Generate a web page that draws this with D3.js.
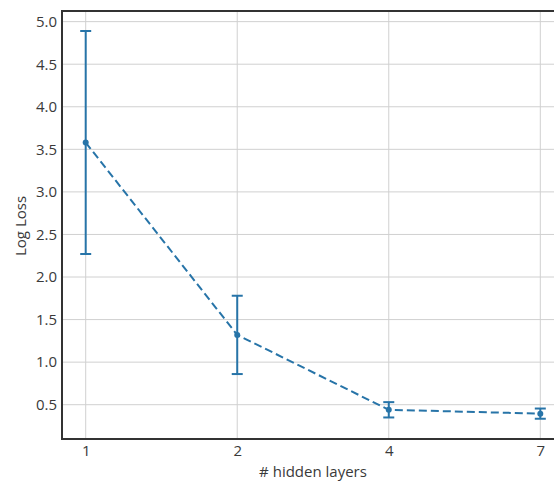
<!DOCTYPE html>
<html>
<head>
<meta charset="utf-8">
<script src="https://cdn.jsdelivr.net/npm/d3@7"></script>
<style>
  html, body { margin: 0; padding: 0; background: #fff; overflow: hidden; }
  svg { display: block; }
  text { font-family: "Open Sans", "DejaVu Sans", sans-serif; fill: #3a3a3a; }
</style>
</head>
<body>
<div id="chart"></div>
<script>
// data
const layers = ["1", "2", "4", "7"];
const logLoss = [3.58, 1.32, 0.44, 0.395];
const errs = [1.31, 0.46, 0.09, 0.06];
const yTicks = [0.5, 1.0, 1.5, 2.0, 2.5, 3.0, 3.5, 4.0, 4.5, 5.0];

const W = 554, H = 481;
const margin = { top: 11, right: -10, bottom: 42, left: 62 };
const width = W - margin.left - margin.right,
      height = H - margin.top - margin.bottom;

const svg = d3.select("#chart").append("svg")
    .attr("width", W)
    .attr("height", H);

const g = svg.append("g")
    .attr("transform", "translate(" + margin.left + "," + margin.top + ")");

// categories sit evenly spaced
const x = d3.scalePoint()
    .domain(layers)
    .range([23.7, width - 23.7]);

const y = d3.scaleLinear()
    .domain([0.097, 5.125])
    .range([height, 0]);

const right = W - margin.left; // picture edge, in plot coordinates

// grid
g.selectAll(".hgrid")
  .data(yTicks)
  .enter().append("line")
    .attr("x1", 0).attr("x2", right)
    .attr("y1", d => y(d)).attr("y2", d => y(d))
    .style("stroke", "#d0d0d0")
    .style("stroke-width", 1);

g.selectAll(".vgrid")
  .data(layers)
  .enter().append("line")
    .attr("x1", d => x(d)).attr("x2", d => x(d))
    .attr("y1", 0).attr("y2", height)
    .style("stroke", "#d0d0d0")
    .style("stroke-width", 1);

// axes (labels only)
const yAxis = g.append("g")
    .call(d3.axisLeft(y).tickValues(yTicks).tickFormat(d3.format(".1f")).tickSize(0).tickPadding(5));
const xAxis = g.append("g")
    .attr("transform", "translate(0," + height + ")")
    .call(d3.axisBottom(x).tickSize(0).tickPadding(6));
[yAxis, xAxis].forEach(a => {
  a.select(".domain").remove();
  a.selectAll("text").style("font-size", "15px").style("fill", "#3a3a3a");
});

// left, top and bottom spines as thin filled bars (no right spine in the picture)
const spines = [[-1, -1, 2, height + 2], [-1, -1, right + 1, 2], [-1, height - 1, right + 1, 2]];
g.selectAll(".spine")
  .data(spines)
  .enter().append("rect")
    .attr("x", d => d[0]).attr("y", d => d[1])
    .attr("width", d => d[2]).attr("height", d => d[3])
    .style("fill", "#333");

const col = "#2774a8";

// dashed mean line
const line = d3.line()
    .x((d, i) => x(layers[i]))
    .y(d => y(d));

g.append("path")
    .datum(logLoss)
    .attr("d", line)
    .style("fill", "none")
    .style("stroke", col)
    .style("stroke-width", 2)
    .style("stroke-dasharray", "8,4");

// error bars
const bars = g.selectAll(".err")
  .data(logLoss)
  .enter().append("g");

bars.append("line")
    .attr("x1", (d, i) => x(layers[i])).attr("x2", (d, i) => x(layers[i]))
    .attr("y1", (d, i) => y(d - errs[i])).attr("y2", (d, i) => y(d + errs[i]))
    .style("stroke", col).style("stroke-width", 2);

[-1, 1].forEach(s => {
  bars.append("line")
      .attr("x1", (d, i) => x(layers[i]) - 5.5).attr("x2", (d, i) => x(layers[i]) + 5.5)
      .attr("y1", (d, i) => y(d + s * errs[i])).attr("y2", (d, i) => y(d + s * errs[i]))
      .style("stroke", col).style("stroke-width", 2);
});

bars.append("circle")
    .attr("cx", (d, i) => x(layers[i]))
    .attr("cy", d => y(d))
    .attr("r", 3)
    .style("fill", col);

// axis titles
g.append("text")
    .attr("x", width / 2)
    .attr("y", 477 - margin.top)
    .style("text-anchor", "middle")
    .style("font-size", "15px")
    .text("# hidden layers");

g.append("text")
    .attr("transform", "rotate(-90)")
    .attr("x", -(226 - margin.top))
    .attr("y", 26 - margin.left)
    .style("text-anchor", "middle")
    .style("font-size", "15px")
    .text("Log Loss");
</script>
</body>
</html>
